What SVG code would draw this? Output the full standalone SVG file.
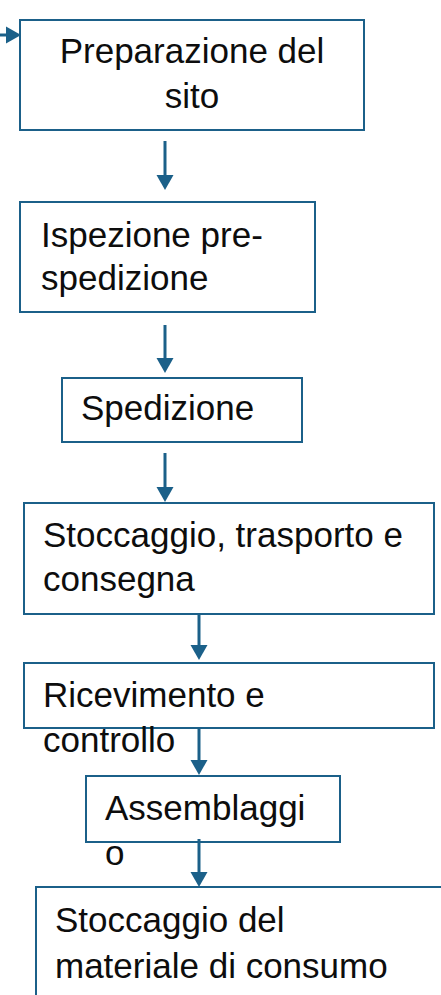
<svg xmlns="http://www.w3.org/2000/svg" width="441" height="995" viewBox="0 0 441 995">
<style>
.box{fill:#ffffff;stroke:#1b6089;stroke-width:2}
.t{font-family:"Liberation Sans",Arial,sans-serif;font-size:35px;fill:#0d0d0d}
.c{stroke:#1b6089;stroke-width:3;fill:none}
</style>
<defs>
<marker id="ah" markerUnits="userSpaceOnUse" markerWidth="16" markerHeight="18" refX="1" refY="8.5" orient="auto" viewBox="0 0 16 17">
<path d="M0,0 L15,8.5 L0,17 Z" fill="#1b6089"/>
</marker>
</defs>
<rect width="441" height="995" fill="#ffffff"/>
<g id="connectors">
<line class="c" x1="0" y1="35" x2="7" y2="35" marker-end="url(#ah)"/>
<line class="c" x1="165" y1="141" x2="165" y2="176" marker-end="url(#ah)"/>
<line class="c" x1="165" y1="325" x2="165" y2="359" marker-end="url(#ah)"/>
<line class="c" x1="165" y1="453" x2="165" y2="488" marker-end="url(#ah)"/>
<line class="c" x1="199" y1="612" x2="199" y2="646" marker-end="url(#ah)"/>
</g>
<g id="n1">
<rect class="box" x="20" y="20" width="344" height="110"/>
<text class="t" x="192" y="63" text-anchor="middle">Preparazione del</text>
<text class="t" x="192" y="108" text-anchor="middle">sito</text>
</g>
<g id="n2">
<rect class="box" x="20" y="202" width="295" height="110"/>
<text class="t" x="41" y="247">Ispezione pre-</text>
<text class="t" x="41" y="290">spedizione</text>
</g>
<g id="n3">
<rect class="box" x="62" y="378" width="240" height="64"/>
<text class="t" x="81" y="420">Spedizione</text>
</g>
<g id="n4">
<rect class="box" x="24" y="503" width="410" height="111"/>
<text class="t" x="43" y="547">Stoccaggio, trasporto e</text>
<text class="t" x="43" y="591">consegna</text>
</g>
<g id="n5">
<rect class="box" x="24" y="663" width="410" height="65"/>
<text class="t" x="43" y="707">Ricevimento e</text>
<text class="t" x="43" y="752">controllo</text>
</g>
<g id="n6">
<rect class="box" x="86" y="776" width="254" height="66"/>
<text class="t" x="105" y="820">Assemblaggi</text>
<text class="t" x="105" y="865">o</text>
</g>
<g id="n7">
<rect class="box" x="36" y="887" width="420" height="130"/>
<text class="t" x="55" y="932">Stoccaggio del</text>
<text class="t" x="55" y="978">materiale di consumo</text>
</g>
<g id="connectors-over">
<line class="c" x1="199" y1="728" x2="199" y2="761" marker-end="url(#ah)"/>
<line class="c" x1="199" y1="839" x2="199" y2="873" marker-end="url(#ah)"/>
</g>
</svg>
